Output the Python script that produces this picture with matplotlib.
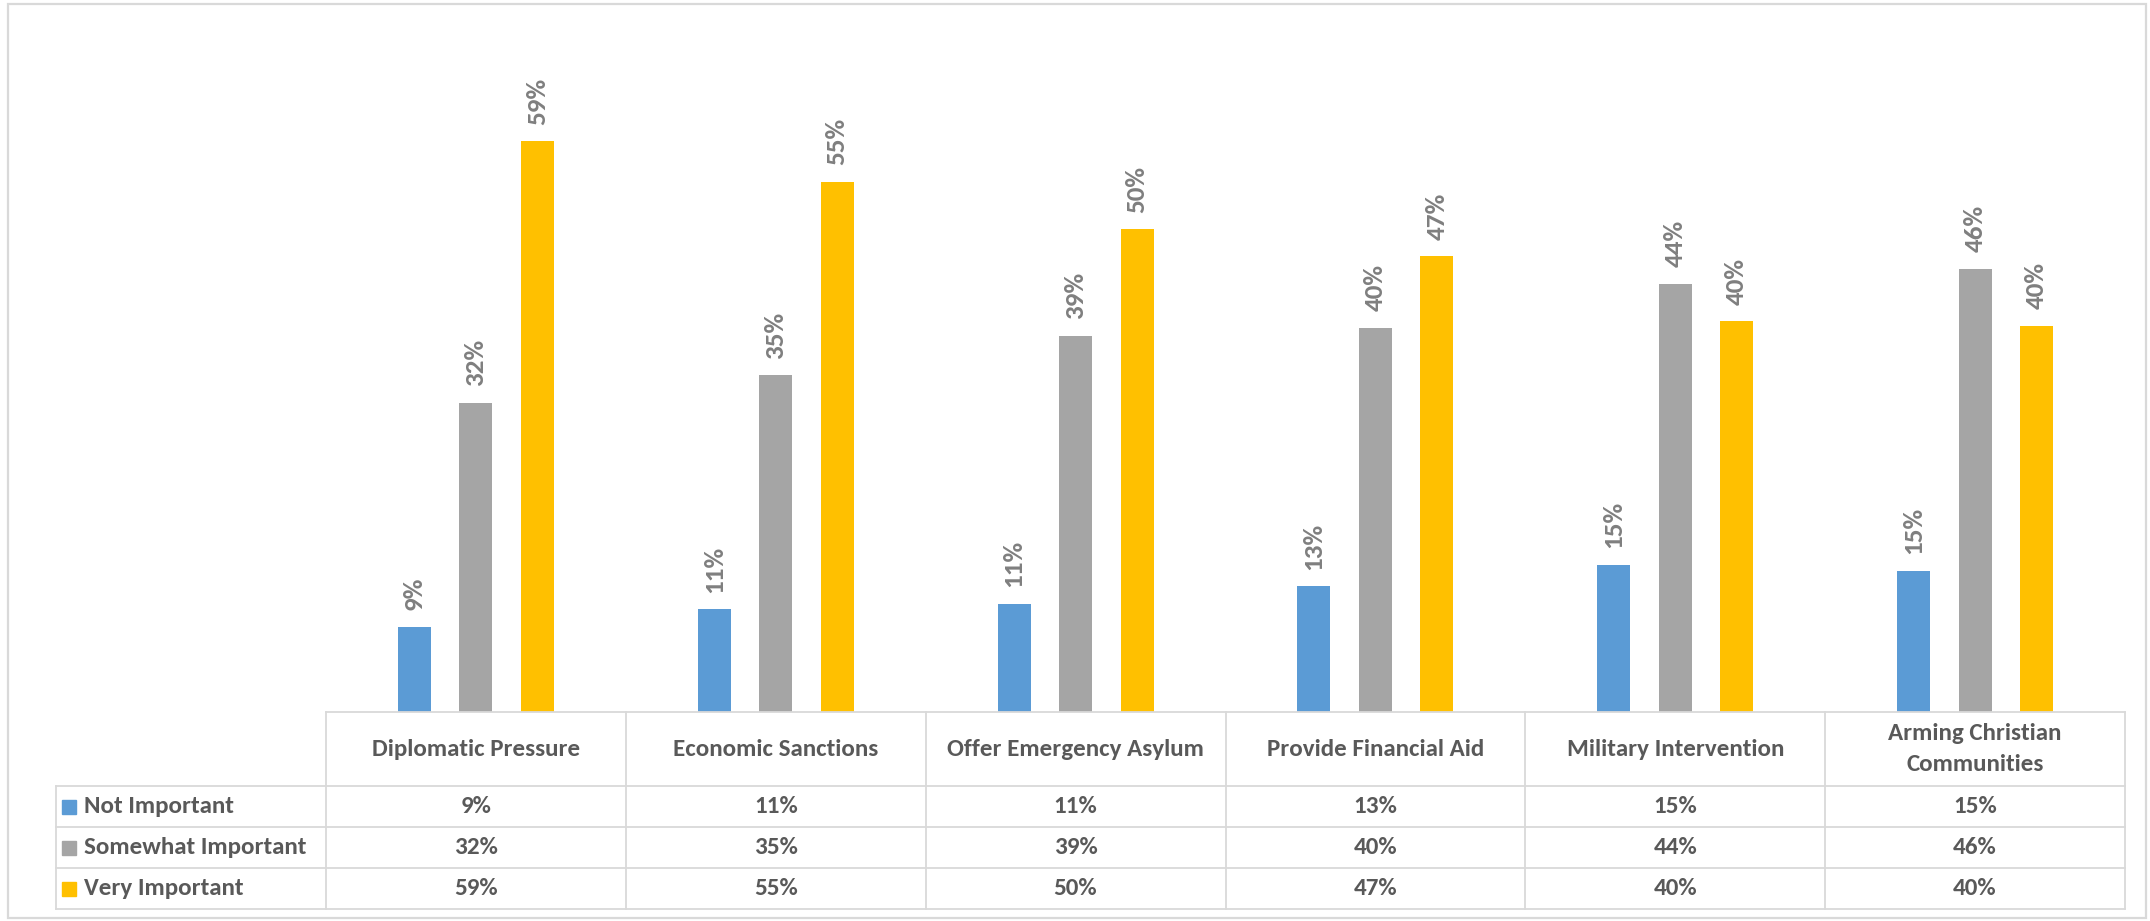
import numpy as np
import matplotlib.pyplot as plt
from matplotlib.patches import Rectangle

plt.rcParams['font.family'] = ['Carlito', 'DejaVu Sans']

# Survey data (percent)
categories = ['Diplomatic Pressure', 'Economic Sanctions', 'Offer Emergency Asylum',
              'Provide Financial Aid', 'Military Intervention', 'Arming Christian\nCommunities']
series_names = ['Not Important', 'Somewhat Important', 'Very Important']
not_important = [8.8, 10.6, 11.2, 13.0, 15.2, 14.6]
somewhat_important = [32.0, 34.8, 38.9, 39.7, 44.3, 45.8]
very_important = [59.0, 54.8, 49.9, 47.1, 40.4, 39.9]
colors = ['#5B9BD5', '#A5A5A5', '#FFC000']

W, H = 2150, 921
fig = plt.figure(figsize=(W / 100, H / 100), dpi=100)

# pixel layout
x_left_tab, x_data, x_right = 56, 326, 2125
y_base, y_top = 712, 35

ax = fig.add_axes([x_data / W, 1 - y_base / H, (x_right - x_data) / W, (y_base - y_top) / H])
x = np.arange(len(categories))
offsets = [-0.205, 0.0, 0.205]
bw = 0.11
for vals, off, col in zip([not_important, somewhat_important, very_important], offsets, colors):
    bars = ax.bar(x + off, vals, width=bw, color=col)
    for b, v in zip(bars, vals):
        ax.annotate(f'{v:.0f}%', (b.get_x() + b.get_width() / 2, b.get_height()),
                    xytext=(0, 12), textcoords='offset points', rotation=90,
                    ha='center', va='bottom', fontsize=19.5, fontweight='bold', color='#7F7F7F')
ax.set_xlim(-0.5, len(categories) - 0.5)
ax.set_ylim(0, 70)
ax.axis('off')

# data table below the bars
legend_w = (x_data - x_left_tab) / ((x_right - x_data) / len(categories))
tab_bottom = 909
tab = fig.add_axes([x_left_tab / W, 1 - tab_bottom / H, (x_right - x_left_tab) / W, (tab_bottom - y_base) / H])
tab.set_xlim(-0.5 - legend_w, len(categories) - 0.5)
tab.set_ylim(tab_bottom - y_base, 0)
tab.axis('off')
grid_c = '#D9D9D9'
lw = 1.3
head_h = 74
row_h = (tab_bottom - y_base - head_h) / 3
xl, x0, x1 = -0.5 - legend_w, -0.5, len(categories) - 0.5
tab.plot([x0, x1], [0, 0], color=grid_c, lw=lw, clip_on=False)
for r in range(4):
    yy = head_h + r * row_h
    tab.plot([xl, x1], [yy, yy], color=grid_c, lw=lw, clip_on=False)
tab.plot([xl, xl], [head_h, head_h + 3 * row_h], color=grid_c, lw=lw, clip_on=False)
for c in range(len(categories) + 1):
    tab.plot([c - 0.5, c - 0.5], [0, head_h + 3 * row_h], color=grid_c, lw=lw, clip_on=False)

txt_c = '#595959'
for i, cat in enumerate(categories):
    tab.text(i, head_h / 2, cat, ha='center', va='center', fontsize=18,
             fontweight='bold', color=txt_c, linespacing=1.6)
for r, (name, vals, col) in enumerate(zip(series_names,
                                          [not_important, somewhat_important, very_important], colors)):
    yc = head_h + (r + 0.5) * row_h
    tab.plot([xl + 0.042], [yc], marker='s', ms=10, color=col, clip_on=False)
    tab.text(xl + 0.095, yc, name, ha='left', va='center', fontsize=18,
             fontweight='bold', color=txt_c)
    for i, v in enumerate(vals):
        tab.text(i, yc, f'{v:.0f}%', ha='center', va='center', fontsize=18,
                 fontweight='bold', color=txt_c)

# outer chart border
fig.patches.append(Rectangle((8 / W, 1 - 918 / H), (2146 - 8) / W, (918 - 4) / H,
                             transform=fig.transFigure, fill=False, ec='#D9D9D9', lw=1.6))

fig.savefig('out.png', dpi=100, facecolor='white')
